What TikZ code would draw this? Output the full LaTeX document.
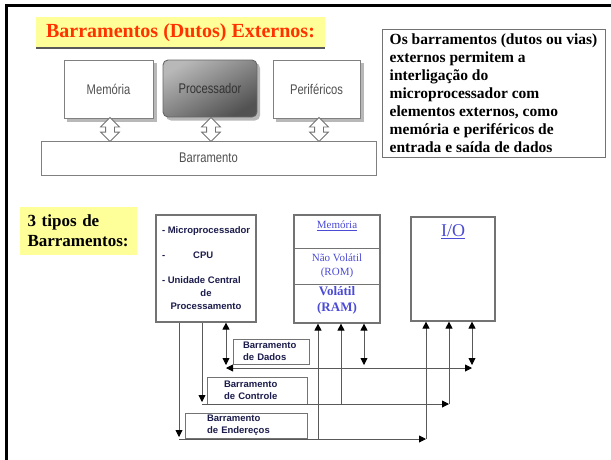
\documentclass[tikz,border=0pt]{standalone}
\usepackage{fontspec}
\setmainfont{Liberation Serif}
\setsansfont{Liberation Sans}
\newfontfamily\fonteclara[FakeStretch=0.8]{Liberation Sans}
\usetikzlibrary{arrows.meta,shapes.arrows}

\definecolor{amarelo}{HTML}{FFFF99}
\definecolor{vermelho}{HTML}{FF3300}
\definecolor{azul}{HTML}{4B4BD6}
\definecolor{marinho}{HTML}{1C1C4C}
\definecolor{cinzatexto}{HTML}{505050}
\definecolor{sombra}{HTML}{B8B8B8}

\tikzset{
	caixa/.style={draw=black!55, line width=1.2pt, fill=white, inner sep=0pt, text=black},
	bloco/.style={caixa, line width=0.9pt, draw=black!50, font=\fonteclara\fontsize{14}{16}\selectfont, text=cinzatexto},
	setadupla/.style={double arrow, rotate=90, draw=black!55, fill=white, line width=0.8pt, inner sep=4pt,
		double arrow head extend=5pt, double arrow head indent=0pt, minimum height=24pt},
	rotulo/.style={caixa, line width=1pt, align=left, font=\sffamily\bfseries\fontsize{9.5}{12}\selectfont, text=marinho},
	ponta/.tip={Triangle[length=7pt,width=7pt,color=black]},
	fio/.style={black!65, line width=0.9pt},
	seta/.style={fio, -ponta},
	setas/.style={fio, ponta-ponta}
}

\begin{document}
\begin{tikzpicture}[x=1pt, y=-1pt]
	\useasboundingbox (0,0) rectangle (611,459);
	\draw[line width=3pt] (6.5,460) -- (6.5,5) -- (612,5);

	\fill[amarelo] (20,207) rectangle (137,255);
	\node[inner xsep=0pt, text width=105pt, align=left, text=black, font=\bfseries\fontsize{17}{20}\selectfont] (tipos) at (80,231) {3 tipos de\\Barramentos:};

	\fill[amarelo] (36,17) rectangle (325,48);
	\draw[black!65, line width=1.5pt] (36,48) -- (325,48);
	\node[text=vermelho, font=\bfseries\fontsize{20}{22}\selectfont] (titulo) at (180.5,32.5) {Barramentos (Dutos) Externos:};

	\fill[sombra] (67,63) rectangle (156.5,121.5);
	\fill[sombra, rounded corners=5pt] (166,63) rectangle (260,120.5);
	\fill[sombra] (276,63) rectangle (363.5,121.5);
	\node[bloco, minimum width=89pt, minimum height=58pt] (mem1) at (108.5,89) {Memória};
	\node[bloco, minimum width=94pt, minimum height=57pt, rounded corners=5pt, draw=black!60,
		top color=black!28, bottom color=black!68, shading angle=30] (proc) at (210,88.5) {};
	\node[font=\fonteclara\fontsize{14}{16}\selectfont, text=black!80] (proctxt) at (proc.center) {Processador};
	\node[bloco, minimum width=87pt, minimum height=58pt] (perif) at (316.5,89) {Periféricos};
	\node[bloco, minimum width=335pt, minimum height=34pt] (barra) at (208.5,158) {Barramento};
	\node[setadupla] (s1) at (110,129.5) {};
	\node[setadupla] (s2) at (211,129.5) {};
	\node[setadupla] (s3) at (319,129.5) {};

	\node[caixa, line width=1pt, minimum width=223pt, minimum height=128pt, align=left, font=\bfseries\fontsize{15.5}{18}\selectfont] (desc) at (493.5,93) {Os barramentos (dutos ou vias)\\externos permitem a\\interligação do\\microprocessador com\\elementos externos, como\\memória e periféricos de\\entrada e saída de dados};

	\node[caixa, minimum width=100pt, minimum height=107pt, align=center, font=\sffamily\bfseries\fontsize{9.5}{13}\selectfont, text=marinho] (cpu) at (206,268.5) {\makebox[88pt][l]{- Microprocessador}\\[12pt]\makebox[88pt][l]{-\hspace{28pt}CPU}\\[12pt]\makebox[88pt][l]{- Unidade Central}\\de\\Processamento};

	\node[caixa, minimum width=86pt, minimum height=108pt] (mem) at (337,269) {};
	\draw[black!55, line width=1.2pt] ([yshift=-34pt]mem.north west) -- ([yshift=-34pt]mem.north east);
	\draw[black!55, line width=1.2pt] ([yshift=-70pt]mem.north west) -- ([yshift=-70pt]mem.north east);
	\node[text=azul, font=\fontsize{11}{13}\selectfont] (memtit) at (337,226) {\underline{Memória}};
	\node[text=azul, align=center, font=\fontsize{11}{14}\selectfont] (rom) at (337,266) {Não Volátil\\(ROM)};
	\node[text=azul, align=center, font=\bfseries\fontsize{13}{16}\selectfont] (ram) at (337,300) {Volátil\\(RAM)};

	\node[caixa, minimum width=84pt, minimum height=104pt] (io) at (453,269) {};
	\node[text=azul, font=\fontsize{18}{20}\selectfont] (iotit) at (453,232) {\underline{I/O}};

	\node[rotulo, minimum width=76pt, minimum height=25pt, inner xsep=10pt, text width=56pt] (lbdados) at (271,351.5) {Barramento\\de Dados};
	\node[rotulo, minimum width=100pt, minimum height=27pt, inner xsep=17pt, text width=66pt] (lbctrl) at (257,390.5) {Barramento\\de Controle};
	\node[rotulo, minimum width=122pt, minimum height=25pt, inner xsep=22pt, text width=78pt] (lbend) at (246,425.5) {Barramento\\de Endereços};

	\coordinate (dadosE) at (226,368);
	\coordinate (dadosD) at (472,368);
	\coordinate (ctrlE) at (202,404);
	\coordinate (ctrlD) at (449,404);
	\coordinate (endE) at (179,439);
	\coordinate (endD) at (426,439);

	\draw[setas, shorten >=3pt] ([xshift=20pt]cpu.south) -- (dadosE);
	\draw[setas] (dadosE) -- (dadosD);
	\draw[setas, shorten <=3pt] ([xshift=27pt]mem.south |- dadosE) -- ([xshift=27pt]mem.south);
	\draw[setas, shorten <=3pt] (dadosD) -- ([xshift=19pt]io.south);

	\draw[seta, shorten >=2pt] ([xshift=-4pt]cpu.south) -- (ctrlE);
	\draw[seta] (ctrlE) -- (ctrlD);
	\draw[seta] ([xshift=4pt]mem.south |- ctrlE) -- ([xshift=4pt]mem.south);
	\draw[seta] (ctrlD) -- ([xshift=-4pt]io.south);

	\draw[seta, shorten >=2pt] ([xshift=-27pt]cpu.south) -- (endE);
	\draw[seta] (endE) -- (endD);
	\draw[seta] ([xshift=-19pt]mem.south |- endE) -- ([xshift=-19pt]mem.south);
	\draw[seta] (endD) -- ([xshift=-27pt]io.south);
\end{tikzpicture}
\end{document}
